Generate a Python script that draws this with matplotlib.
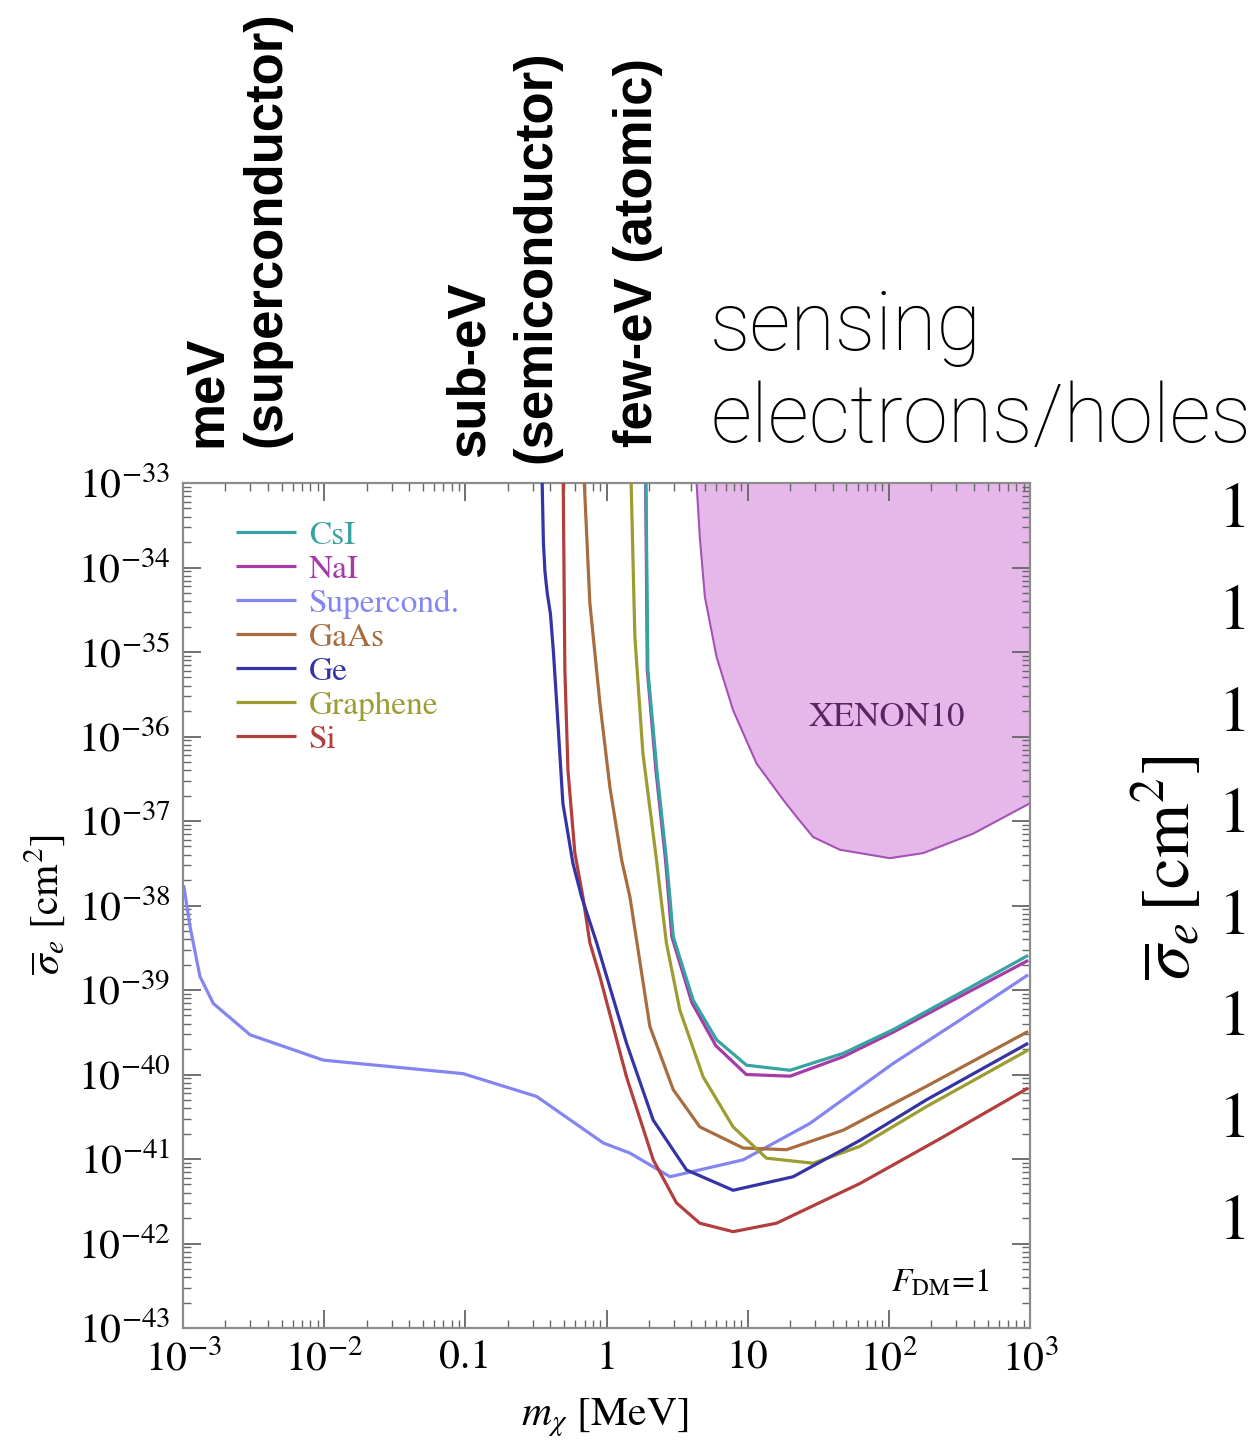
import numpy as np
import matplotlib
matplotlib.use('Agg')
import matplotlib.pyplot as plt
from matplotlib.ticker import LogLocator, FixedLocator, FixedFormatter, NullFormatter

plt.rcParams['mathtext.fontset'] = 'stix'
plt.rcParams['font.family'] = ['STIXGeneral', 'DejaVu Serif']

# curve values, as log10(m / MeV) and log10(sigma / cm^2)
csi_lx = [0.279, 0.293, 0.357, 0.425, 0.449, 0.473, 0.614, 0.780, 0.992, 1.30, 1.676, 2.03, 2.50, 2.987]
csi_ly = [-32.9, -35.21, -36.40, -37.46, -37.90, -38.37, -39.12, -39.59, -39.89, -39.95, -39.75, -39.47, -39.04, -38.59]

nai_lx = [0.277, 0.289, 0.350, 0.418, 0.440, 0.463, 0.605, 0.775, 0.990, 1.30, 1.676, 2.03, 2.50, 2.987]
nai_ly = [-32.9, -35.21, -36.40, -37.46, -37.90, -38.37, -39.15, -39.66, -40.00, -40.02, -39.79, -39.50, -39.08, -38.65]

sc_lx = [-2.995, -2.95, -2.88, -2.785, -2.525, -2.006, -1.015, -0.495, -0.023, 0.166, 0.45, 0.968, 1.44, 2.03, 2.50, 2.987]
sc_ly = [-37.76, -38.25, -38.84, -39.16, -39.53, -39.83, -39.99, -40.26, -40.81, -40.93, -41.21, -41.01, -40.58, -39.87, -39.36, -38.82]

gaas_lx = [-0.160, -0.118, -0.047, 0.024, 0.107, 0.166, 0.307, 0.473, 0.661, 0.968, 1.275, 1.676, 2.266, 2.987]
gaas_ly = [-32.9, -34.42, -35.60, -36.60, -37.46, -37.90, -39.43, -40.18, -40.62, -40.87, -40.89, -40.66, -40.14, -39.49]

ge_lx = [-0.457, -0.447, -0.436, -0.420, -0.397, -0.376, -0.353, -0.309, -0.238, -0.176, -0.07, 0.142, 0.331,
         0.567, 0.897, 1.322, 1.795, 2.266, 2.987]
ge_ly = [-32.9, -33.7, -34.05, -34.3, -34.55, -35.0, -35.60, -36.79, -37.50, -37.90, -38.44, -39.63, -40.54,
         -41.13, -41.37, -41.21, -40.78, -40.30, -39.63]

gr_lx = [0.173, 0.201, 0.258, 0.354, 0.385, 0.425, 0.52, 0.685, 0.897, 1.133, 1.464, 1.795, 2.266, 2.987]
gr_ly = [-32.9, -34.82, -36.20, -37.46, -37.90, -38.45, -39.24, -40.03, -40.62, -40.99, -41.05, -40.85, -40.38, -39.71]

si_lx = [-0.307, -0.295, -0.273, -0.224, -0.167, -0.118, -0.047, 0.142, 0.331, 0.496, 0.661, 0.897, 1.204, 1.795, 2.384, 2.987]
si_ly = [-32.9, -35.21, -36.40, -37.38, -37.90, -38.44, -38.84, -40.03, -41.01, -41.52, -41.76, -41.86, -41.76, -41.29, -40.74, -40.16]

xenon_lx = [0.638, 0.661, 0.697, 0.78, 0.897, 1.063, 1.252, 1.346, 1.464, 1.653, 2.007, 2.243, 2.597, 3.0]
xenon_ly = [-33.0, -33.64, -34.35, -35.06, -35.69, -36.32, -36.75, -36.95, -37.19, -37.34, -37.44, -37.38, -37.15, -36.79]

curves = [
    ('CsI', csi_lx, csi_ly, '#38a3a3'),
    ('NaI', nai_lx, nai_ly, '#a83aa8'),
    ('Supercond.', sc_lx, sc_ly, '#8585f2'),
    ('GaAs', gaas_lx, gaas_ly, '#a86c3e'),
    ('Ge', ge_lx, ge_ly, '#3434a6'),
    ('Graphene', gr_lx, gr_ly, '#9c9c32'),
    ('Si', si_lx, si_ly, '#b23e3e'),
]
draw_order = {'CsI': 7, 'NaI': 6, 'Supercond.': 3, 'GaAs': 4, 'Ge': 5, 'Graphene': 4.5, 'Si': 4.8}

xtick_vals = [1e-3, 1e-2, 0.1, 1, 10, 1e2, 1e3]
xtick_labels = [r'$10^{-3}$', r'$10^{-2}$', '0.1', '1', '10', r'$10^{2}$', r'$10^{3}$']

W, H = 1253, 1442
fig = plt.figure(figsize=(W / 100, H / 100), dpi=100)
ax = fig.add_axes([183 / W, 1 - 1328 / H, 847 / W, 845 / H])

# XENON10 excluded region
xm = 10 ** np.array(xenon_lx)
xs = 10 ** np.array(xenon_ly)
ax.fill_between(xm, xs, 1e-33, color='#e6b8ea', lw=0, zorder=1)
ax.plot(xm, xs, color='#a552b5', lw=1.5, zorder=2)
ax.text(10 ** 1.986, 10 ** -35.78, 'XENON10', fontsize=25, color='#5a2462',
        ha='center', va='center', zorder=2)

for name, lx, ly, col in curves:
    ax.plot(10 ** np.array(lx), 10 ** np.array(ly), color=col, lw=2.3,
            label=name, zorder=draw_order[name], solid_capstyle='butt',
            solid_joinstyle='round')

ax.set_xscale('log')
ax.set_yscale('log')
ax.set_xlim(1e-3, 1e3)
ax.set_ylim(1e-43, 1e-33)

ax.xaxis.set_major_locator(FixedLocator(xtick_vals))
ax.xaxis.set_major_formatter(FixedFormatter(xtick_labels))
ax.xaxis.set_minor_locator(LogLocator(base=10, subs=np.arange(2, 10), numticks=20))
ax.xaxis.set_minor_formatter(NullFormatter())
ax.yaxis.set_major_locator(LogLocator(base=10, numticks=20))
ax.yaxis.set_minor_locator(LogLocator(base=10, subs=np.arange(2, 10), numticks=20))
ax.yaxis.set_minor_formatter(NullFormatter())

ax.tick_params(which='both', direction='in', top=True, right=True, color='#666666')
ax.tick_params(which='major', length=13, width=1.3, labelsize=30, pad=9)
ax.tick_params(which='minor', length=6, width=1.0)
for s in ax.spines.values():
    s.set_color('#8c8c8c')
    s.set_linewidth(1.6)

leg = ax.legend(loc='upper left', bbox_to_anchor=(0.062, 0.956), frameon=False,
                fontsize=24, labelcolor='linecolor', handlelength=1.8,
                handletextpad=0.4, labelspacing=0.11, borderpad=0, borderaxespad=0)

ax.text(10 ** 2.715, 10 ** -42.47, r'$F_{\mathrm{DM}}\!=\!1$', fontsize=24,
        ha='right', va='center')

fig.text(605 / W, 1 - 1418 / H, r'$m_\chi$ [MeV]', fontsize=30, ha='center', va='center')
fig.text(45 / W, 1 - 905 / H, r'$\overline{\sigma}_e$ [cm$^2$]', fontsize=30,
         ha='center', va='center', rotation=90)

# energy-threshold annotations above the plot
bold = dict(family=['Liberation Sans', 'DejaVu Sans'], fontweight='bold', fontsize=38,
            rotation=90, ha='center', va='bottom', color='black')
fig.text(207 / W, 1 - 447 / H, 'meV', **bold)
fig.text(266 / W, 1 - 447 / H, '(superconductor)', **bold)
fig.text(470 / W, 1 - 457 / H, 'sub-eV', **bold)
fig.text(536 / W, 1 - 463 / H, '(semiconductor)', **bold)
fig.text(638 / W, 1 - 447 / H, 'few-eV (atomic)', **bold)

light = dict(family=['Roboto', 'DejaVu Sans'], fontweight='light', fontsize=58.5,
             ha='left', va='baseline', color='black')
fig.text(710 / W, 1 - 350 / H, 'sensing', **light)
fig.text(710 / W, 1 - 442 / H, 'electrons/holes', **light)

# pieces of the neighbouring panel at the right edge
fig.text(1168 / W, 1 - 868 / H, r'$\overline{\sigma}_e\,[\mathrm{cm}^2]$', fontsize=50,
         ha='center', va='center', rotation=90)
for k in range(8):
    fig.text(1251 / W, 1 - (512 + 101.6 * k) / H, '1', fontsize=46,
             ha='right', va='center')

fig.savefig('out.png', dpi=100)
